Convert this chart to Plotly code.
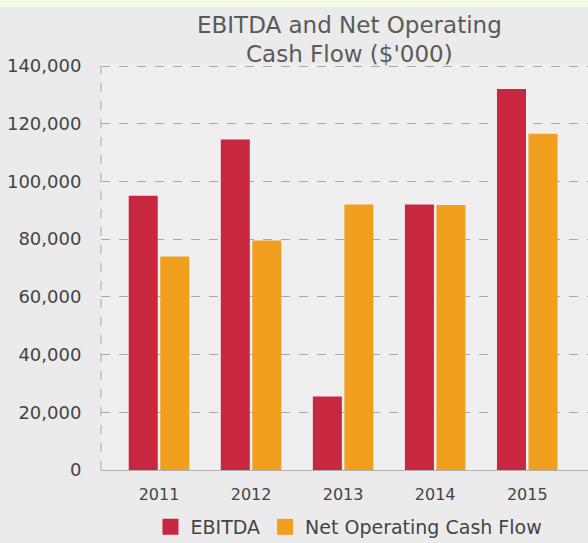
import plotly.graph_objects as go

years = ["2011", "2012", "2013", "2014", "2015"]
ebitda = [95000, 114500, 25500, 92000, 132000]
nocf = [74000, 79500, 92000, 91800, 116500]
y_ticks = [0, 20000, 40000, 60000, 80000, 100000, 120000, 140000]
y_tick_labels = ["0", "20,000", "40,000", "60,000", "80,000", "100,000", "120,000", "140,000"]
title_lines = ["EBITDA and Net Operating", "Cash Flow ($'000)"]

RED = "#c8283f"
ORANGE = "#f19f1f"
FONT = "DejaVu Sans"

W, H = 588, 543
ML, MR, MT, MB = 101, 0, 64, 73
PH = H - MT - MB  # plot height in px
Y_TOP = 140000 * PH / (PH - 2)  # keep the 140,000 gridline just inside the plot


def py(y_px):
    """convert a pixel row (from top) to paper y"""
    return (H - MB - y_px) / PH


def px(x_px):
    return (x_px - ML) / (W - ML - MR)


fig = go.Figure()
fig.add_trace(go.Bar(x=years, y=ebitda, name="EBITDA", marker_color=RED,
                     marker_line_width=0, showlegend=False))
fig.add_trace(go.Bar(x=years, y=nocf, name="Net Operating Cash Flow", marker_color=ORANGE,
                     marker_line_width=0, showlegend=False))
# legend entries with larger square symbols
fig.add_trace(go.Scatter(x=[None], y=[None], mode="markers", name="EBITDA",
                         marker=dict(symbol="square", size=16, color=RED)))
fig.add_trace(go.Scatter(x=[None], y=[None], mode="markers", name="Net Operating Cash Flow",
                         marker=dict(symbol="square", size=16, color=ORANGE)))

fig.update_layout(
    width=W, height=H,
    margin=dict(l=ML, r=MR, t=MT, b=MB, autoexpand=False),
    paper_bgcolor="#ebebeb",
    plot_bgcolor="#efefef",
    barmode="group",
    bargap=0.315,
    bargroupgap=0.08,
    font=dict(family=FONT, color="#555555"),
    legend=dict(orientation="h", xref="container", yref="container",
                x=349 / W, xanchor="center", y=(H - 527) / H, yanchor="middle",
                font=dict(family=FONT, size=19, color="#444444"),
                bgcolor="rgba(0,0,0,0)", itemsizing="trace"),
    xaxis=dict(type="category", range=[-0.63, 4.66], showgrid=False, zeroline=False,
               showline=False, ticks="outside", ticklen=10, tickcolor="rgba(0,0,0,0)",
               tickfont=dict(family=FONT, size=16, color="#444444"), fixedrange=True),
    yaxis=dict(range=[0, Y_TOP], tickvals=y_ticks, ticktext=y_tick_labels,
               showgrid=True, gridcolor="#a8a8a8", gridwidth=1, griddash="dash",
               zeroline=True, zerolinecolor="#b0b0b0", zerolinewidth=1,
               showline=False, ticks="outside", ticklen=15,
               tickcolor="rgba(0,0,0,0)",
               tickfont=dict(family=FONT, size=18, color="#444444")),
    shapes=[
        dict(type="rect", xref="paper", yref="paper", x0=-0.3, x1=1.1,
             y0=py(7), y1=py(-5), fillcolor="#f4fbe6", line_width=0, layer="below"),
        dict(type="line", xref="paper", yref="paper", x0=0, x1=0, y0=0, y1=py(66),
             line=dict(color="#a8a8a8", width=1, dash="dash")),
    ],
    annotations=[
        dict(text=title_lines[0], xref="paper", yref="paper", x=px(349), y=py(25),
             xanchor="center", yanchor="middle", showarrow=False,
             font=dict(family=FONT, size=23, color="#5a5a5a")),
        dict(text=title_lines[1], xref="paper", yref="paper", x=px(349), y=py(54),
             xanchor="center", yanchor="middle", showarrow=False,
             font=dict(family=FONT, size=23, color="#5a5a5a")),
    ],
)

fig.write_html(
    "out.html",
    config={"displayModeBar": False},
    post_script="document.body.style.margin='0';document.body.style.overflow='hidden';",
)
